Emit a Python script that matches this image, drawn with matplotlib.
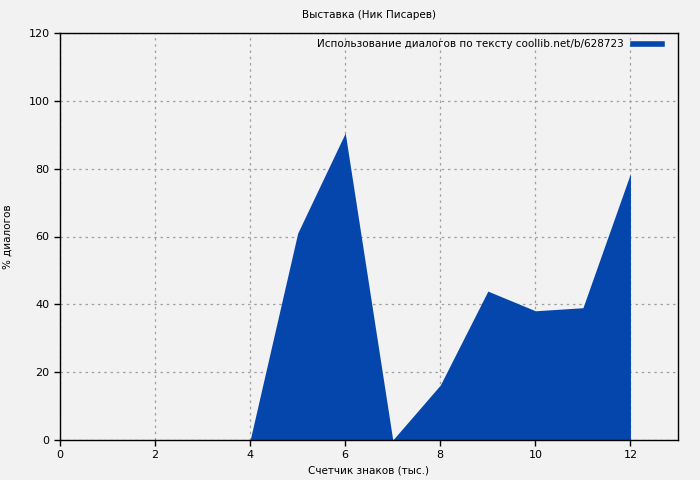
import matplotlib
matplotlib.use("Agg")
from matplotlib import pyplot as plt
from matplotlib.lines import Line2D

chars = [1, 2, 3, 4, 5, 6, 7, 8, 9, 10, 11, 12]
dialog_pct = [0, 0, 0, 0, 61, 90.5, 0, 16.2, 43.9, 38.1, 39.0, 78.6]
x_ticks = [0, 2, 4, 6, 8, 10, 12]
y_ticks = [0, 20, 40, 60, 80, 100, 120]

bg = "#f2f2f2"
blue = "#0546ad"

fig = plt.figure(figsize=(7, 4.8), dpi=100, facecolor=bg)
ax = fig.add_axes([60/700, 40/480, 618/700, 407/480])
ax.set_facecolor(bg)

ax.fill_between(chars, dialog_pct, 0, color=blue, linewidth=0)

ax.set_xlim(0, 13)
ax.set_ylim(0, 120)
ax.set_xticks(x_ticks)
ax.set_yticks(y_ticks)
ax.tick_params(labelsize=8, direction="out", length=4, width=1)
ax.grid(True, color="#a0a0a0", linestyle=(0, (2, 3)), linewidth=0.9)
ax.set_axisbelow(True)
for s in ax.spines.values():
    s.set_linewidth(1)
    s.set_color("black")

ax.set_title("Выставка (Ник Писарев)", fontsize=7.5, pad=11)
ax.set_xlabel("Счетчик знаков (тыс.)", fontsize=7.5, labelpad=4)
ax.set_ylabel("% диалогов", fontsize=7.5)
ax.yaxis.set_label_coords(-0.076, 0.5)

handle = Line2D([], [], color=blue, linewidth=4)
ax.legend([handle], ["Использование диалогов по тексту coollib.net/b/628723"],
          loc="upper right", frameon=False, markerfirst=False, fontsize=7.5,
          handlelength=2.8, borderaxespad=0.2, handletextpad=0.9,
          bbox_to_anchor=(0.985, 1.0))

fig.savefig("out.png", dpi=100, facecolor=bg)
